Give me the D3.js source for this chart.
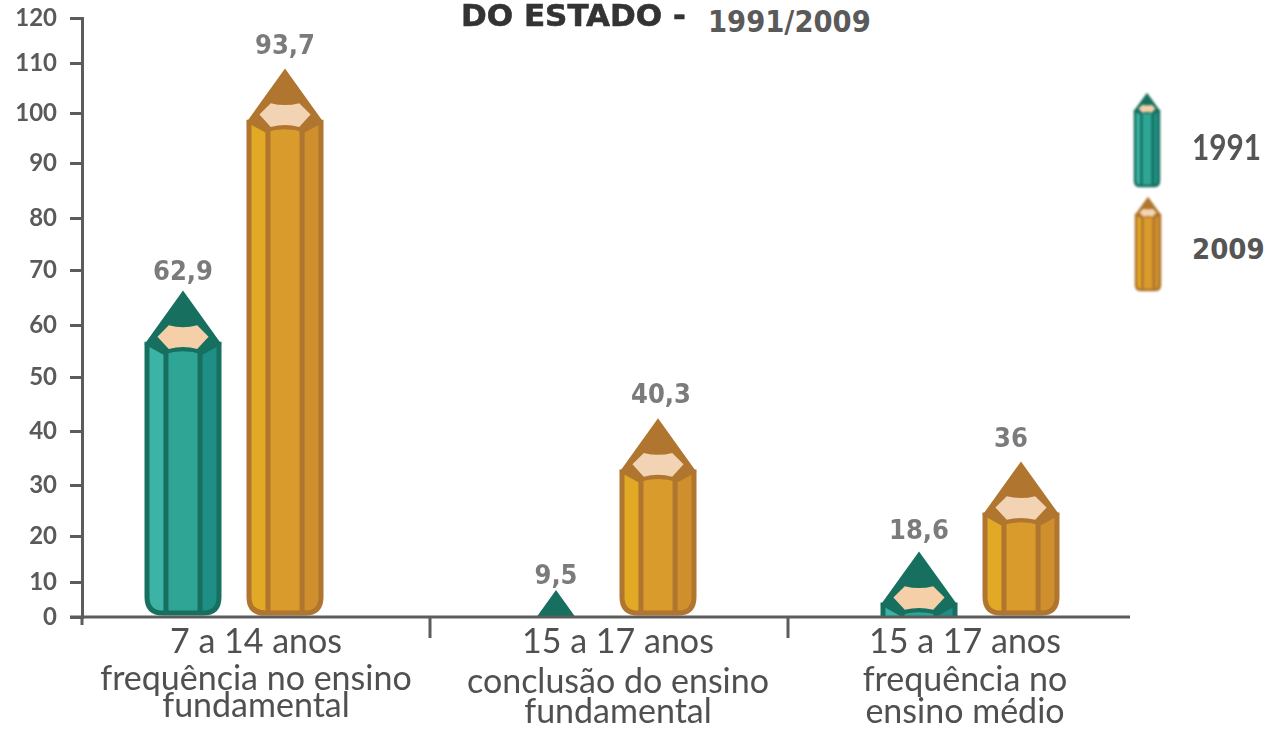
<!DOCTYPE html>
<html>
<head>
<meta charset="utf-8">
<script src="https://cdnjs.cloudflare.com/ajax/libs/d3/7.8.5/d3.min.js"></script>
<style>
  html, body { margin: 0; padding: 0; background: #fff; }
  svg { display: block; }
  text { font-family: Lato, sans-serif; }
  .soft { filter: blur(0.6px); }
  .softer { filter: blur(1px); }
</style>
</head>
<body>
<div id="graph"></div>
<script>
// data
let groups = ["7 a 14 anos", "15 a 17 anos conclusao", "15 a 17 anos medio"]
let groupLabels = [
  ["7 a 14 anos", "frequência no ensino", "fundamental"],
  ["15 a 17 anos", "conclusão do ensino", "fundamental"],
  ["15 a 17 anos", "frequência no", "ensino médio"]
]
let years = ["1991", "2009"]
let values1991 = ["62,9", "9,5", "18,6"]
let values2009 = ["93,7", "40,3", "36"]
// the pencils do not follow their printed numbers, so the tip heights are read against the axis
let tips1991 = [65.8, 7, 16.1]
let tips2009 = [108.4, 41.9, 33.9]
let axisTicks = [0, 10, 20, 30, 40, 50, 60, 70, 80, 90, 100, 110, 120]
// axis in the source is hand drawn, ticks are not evenly spaced
let axisTickY = [617, 582, 536, 485, 431, 377, 325, 270, 218, 163, 113, 63, 18]

let colors = {
  "1991": { body: "#2fa596", left: "#3cb3a5", right: "#1f8f85", line: "#17705f", wood: "#f5cfa8" },
  "2009": { body: "#d99b2b", left: "#e2a925", right: "#cf8f2c", line: "#b0752e", wood: "#f2d4b4" }
}

var width = 1270,
  height = 730;

var svg = d3
  .select("#graph")
  .append("svg")
  .attr("width", width)
  .attr("height", height)
  .attr("viewBox", "0 0 1270 730");

var y = d3.scaleLinear().domain(axisTicks).range(axisTickY);
var groupX = d3.scaleOrdinal().domain(groups).range([234, 607, 970]);
var labelX = d3.scaleOrdinal().domain(groups).range([256, 618, 965]);
var yearX = d3.scaleBand().domain(years).range([-102, 102]);

svg
  .append("clipPath")
  .attr("id", "plot")
  .append("rect")
  .attr("x", 82)
  .attr("y", 0)
  .attr("width", 1060)
  .attr("height", y(0) - 1);

function pencil(g, cx, tipY, bottomY, hw, color, sw) {
  var k = hw / 38;
  var shoulder = tipY + 54 * k;
  var bottom = Math.max(bottomY, shoulder + 30 * k);
  var r = 17 * k;
  var fx = 18 * k;

  var outline =
    "M" + (cx - hw) + "," + shoulder + "L" + (cx + hw) + "," + shoulder +
    "L" + (cx + hw) + "," + (bottom - r) + "Q" + (cx + hw) + "," + bottom + "," + (cx + hw - r) + "," + bottom +
    "L" + (cx - hw + r) + "," + bottom + "Q" + (cx - hw) + "," + bottom + "," + (cx - hw) + "," + (bottom - r) + "Z";

  // body
  g.append("path").attr("d", outline).attr("fill", color.body);
  g.append("path")
    .attr("d", "M" + (cx - hw) + "," + shoulder + "L" + (cx - fx) + "," + shoulder + "L" + (cx - fx) + "," + bottom +
      "L" + (cx - hw + r) + "," + bottom + "Q" + (cx - hw) + "," + bottom + "," + (cx - hw) + "," + (bottom - r) + "Z")
    .attr("fill", color.left);
  g.append("path")
    .attr("d", "M" + (cx + hw) + "," + shoulder + "L" + (cx + fx) + "," + shoulder + "L" + (cx + fx) + "," + bottom +
      "L" + (cx + hw - r) + "," + bottom + "Q" + (cx + hw) + "," + bottom + "," + (cx + hw) + "," + (bottom - r) + "Z")
    .attr("fill", color.right);
  [-fx, fx].forEach(function(d) {
    g.append("line")
      .attr("x1", cx + d).attr("x2", cx + d)
      .attr("y1", shoulder).attr("y2", bottom - 1)
      .attr("stroke", color.line).attr("stroke-width", sw);
  });
  g.append("path").attr("d", outline).attr("fill", "none")
    .attr("stroke", color.line).attr("stroke-width", sw);

  // cone, the whole sharpened part is in the dark colour
  g.append("path")
    .attr("d", "M" + cx + "," + (tipY - sw / 2) + "L" + (cx + hw + sw / 2) + "," + shoulder +
      "L" + (cx + fx + sw / 2) + "," + (tipY + 65 * k) + "Q" + cx + "," + (tipY + 58 * k) + "," + (cx - fx - sw / 2) + "," + (tipY + 65 * k) +
      "L" + (cx - hw - sw / 2) + "," + shoulder + "Z")
    .attr("fill", color.line);

  // shaved wood
  g.append("path")
    .attr("d", "M" + (cx - 27 * k) + "," + (tipY + 46 * k) + "L" + (cx - 15 * k) + "," + (tipY + 34 * k) +
      "Q" + cx + "," + (tipY + 38 * k) + "," + (cx + 15 * k) + "," + (tipY + 34 * k) +
      "L" + (cx + 27 * k) + "," + (tipY + 46 * k) + "L" + (cx + 15 * k) + "," + (tipY + 59 * k) +
      "Q" + cx + "," + (tipY + 55 * k) + "," + (cx - 15 * k) + "," + (tipY + 59 * k) + "Z")
    .attr("fill", color.wood);
}

/* ------- PENCILS -------*/
var marks = svg.append("g").attr("clip-path", "url(#plot)").attr("class", "soft");

years.forEach(function(year, j) {
  var tips = j == 0 ? tips1991 : tips2009;
  groups.forEach(function(group, i) {
    var cx = groupX(group) + yearX(year) + yearX.bandwidth() / 2;
    pencil(marks.append("g"), cx, y(tips[i]), y(0) - 4, 36, colors[year], 5);
  });
});

/* ------- VALUE LABELS -------*/
// gap between tip and number differs per pencil in the source
var labelGap = [[13, 9, 15], [17, 18, 17]];
var labelShift = [[0, 0, 0], [0, 3, -10]];
var labels = svg.append("g").attr("class", "soft");
years.forEach(function(year, j) {
  var vals = j == 0 ? values1991 : values2009;
  var tips = j == 0 ? tips1991 : tips2009;
  groups.forEach(function(group, i) {
    var cx = groupX(group) + yearX(year) + yearX.bandwidth() / 2;
    labels.append("text")
      .attr("x", cx + labelShift[j][i])
      .attr("y", y(tips[i]) - labelGap[j][i])
      .attr("text-anchor", "middle")
      .attr("fill", "#7b7b7b")
      .style("font-family", "'DejaVu Sans Condensed', 'DejaVu Sans', sans-serif")
      .style("font-weight", 700)
      .style("font-size", "27px")
      .text(vals[i]);
  });
});

/* ------- AXES -------*/
var yAxis = svg
  .append("g")
  .attr("class", "soft")
  .attr("transform", "translate(82,0)")
  .call(d3.axisLeft(y).tickValues(axisTicks).tickSize(12).tickPadding(13).tickFormat(d3.format("d")));

yAxis.select(".domain").attr("stroke", "#5c5c5c").attr("stroke-width", 3);
yAxis.selectAll(".tick line").attr("stroke", "#5c5c5c").attr("stroke-width", 3);
yAxis.selectAll(".tick text")
  .attr("fill", "#5a5a5a")
  .style("font-family", "Lato, sans-serif")
  .style("font-weight", 700)
  .style("font-size", "24px");

var baseline = svg.append("g").attr("class", "soft");
baseline.append("line")
  .attr("x1", 70).attr("x2", 1130)
  .attr("y1", y(0)).attr("y2", y(0))
  .attr("stroke", "#5c5c5c").attr("stroke-width", 3);
[82, 430, 788].forEach(function(d) {
  baseline.append("line")
    .attr("x1", d).attr("x2", d)
    .attr("y1", y(0)).attr("y2", d == 82 ? y(0) + 8 : y(0) + 21)
    .attr("stroke", "#5c5c5c").attr("stroke-width", 3);
});

/* ------- CATEGORY LABELS -------*/
var lineY = [[653, 690, 717], [653, 693, 723], [653, 691, 723]];
groups.forEach(function(group, i) {
  groupLabels[i].forEach(function(line, n) {
    svg.append("text")
      .attr("class", "soft")
      .attr("x", labelX(group))
      .attr("y", lineY[i][n])
      .attr("text-anchor", "middle")
      .attr("fill", "#505050")
      .style("font-family", "Lato, sans-serif")
      .style("font-size", "34px")
      .text(line);
  });
});

/* ------- TITLE -------*/
svg.append("text")
  .attr("class", "soft")
  .attr("x", 461).attr("y", 26)
  .attr("fill", "#333")
  .attr("stroke", "#333")
  .attr("stroke-width", 0.6)
  .style("font-family", "'DejaVu Sans', sans-serif")
  .style("font-weight", 700)
  .style("font-size", "31px")
  .text("DO ESTADO -");
svg.append("text")
  .attr("x", 708).attr("y", 32)
  .attr("fill", "#5a5a5a")
  .style("font-family", "'DejaVu Sans Condensed', 'DejaVu Sans', sans-serif")
  .style("font-weight", 700)
  .style("font-size", "30.5px")
  .text("1991/2009");

/* ------- LEGEND -------*/
var legendTip = [94, 198];
var legendText = [160, 259];
years.forEach(function(year, j) {
  pencil(svg.append("g").attr("class", "softer"), 1147 + j, legendTip[j], legendTip[j] + 92, 12, colors[year], 2.5);
});
svg.append("text")
  .attr("class", "soft")
  .attr("x", 1192).attr("y", legendText[0])
  .attr("fill", "#555")
  .attr("textLength", 69)
  .attr("lengthAdjust", "spacingAndGlyphs")
  .style("font-weight", 700)
  .style("font-size", "36px")
  .text(years[0]);
svg.append("text")
  .attr("x", 1192).attr("y", legendText[1])
  .attr("fill", "#555")
  .style("font-family", "'DejaVu Sans Condensed', 'DejaVu Sans', sans-serif")
  .style("font-weight", 700)
  .style("font-size", "29px")
  .text(years[1]);
</script>
</body>
</html>
